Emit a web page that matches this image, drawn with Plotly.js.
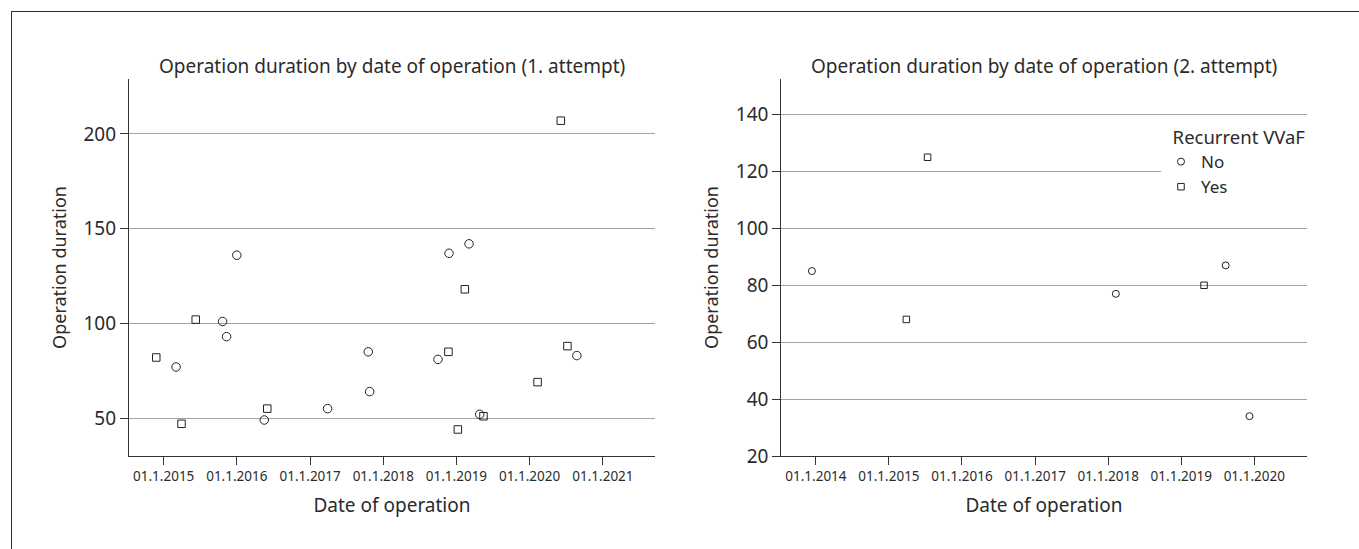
<!DOCTYPE html>
<html>
<head>
<meta charset="utf-8">
<script src="https://cdn.plot.ly/plotly-3.0.1.min.js"></script>
<style>
  html, body { margin: 0; padding: 0; background: #fff; }
  #wrap { position: relative; width: 1359px; height: 549px; overflow: hidden; }
  #chart { width: 1359px; height: 549px; }
  #frame { position: absolute; left: 10.5px; top: 10.5px; width: 1400px; height: 600px;
           border-left: 1.5px solid #2a2a2a; border-top: 1.5px solid #2a2a2a; pointer-events: none; }
</style>
</head>
<body>
<div id="wrap">
  <div id="chart"></div>
  <div id="frame"></div>
</div>
<script>
// ---- Data ----
// 1. attempt
const first_no_dates  = ['2015-03-04','2015-10-22','2015-11-11','2016-01-01','2016-05-17','2017-03-29','2017-10-18','2017-10-25','2018-10-01','2018-11-25','2019-03-05','2019-04-27','2020-08-24'];
const first_no_values = [77, 101, 93, 136, 49, 55, 85, 64, 81, 137, 142, 52, 83];
const first_yes_dates  = ['2014-11-25','2015-03-31','2015-06-10','2016-06-01','2018-11-22','2019-01-08','2019-02-12','2019-05-16','2020-02-10','2020-06-05','2020-07-08'];
const first_yes_values = [82, 47, 102, 55, 85, 44, 118, 51, 69, 207, 88];
// 2. attempt
const second_no_dates  = ['2013-12-12','2018-02-08','2019-08-11','2019-12-08'];
const second_no_values = [85, 77, 87, 34];
const second_yes_dates  = ['2015-03-29','2015-07-13','2019-04-25'];
const second_yes_values = [68, 125, 80];

const group_names = ['No', 'Yes'];
const legend_title = 'Recurrent VVaF';
const title_first = 'Operation duration by date of operation (1. attempt)';
const title_second = 'Operation duration by date of operation (2. attempt)';
const x_title = 'Date of operation';
const y_title = 'Operation duration';
const first_yticks = [50, 100, 150, 200];
const second_yticks = [20, 40, 60, 80, 100, 120, 140];

// ---- Styling ----
const FONT = '"Noto Sans", "Open Sans", sans-serif';
const TXT = '#2b2b2b';
const MK = '#222222';

function mk(symbol, size) {
  return { symbol: symbol, size: size, color: MK, line: { color: MK, width: 1 } };
}

const traces = [
  { type: 'scatter', mode: 'markers', x: first_no_dates, y: first_no_values, xaxis: 'x', yaxis: 'y',
    name: group_names[0], legendgroup: 'no', showlegend: false, marker: mk('circle-open', 8.5), hoverinfo: 'x+y' },
  { type: 'scatter', mode: 'markers', x: first_yes_dates, y: first_yes_values, xaxis: 'x', yaxis: 'y',
    name: group_names[1], legendgroup: 'yes', showlegend: false, marker: mk('square-open', 7.5), hoverinfo: 'x+y' },
  { type: 'scatter', mode: 'markers', x: second_no_dates, y: second_no_values, xaxis: 'x2', yaxis: 'y2',
    name: group_names[0], legendgroup: 'no', showlegend: true, marker: mk('circle-open', 7), hoverinfo: 'x+y' },
  { type: 'scatter', mode: 'markers', x: second_yes_dates, y: second_yes_values, xaxis: 'x2', yaxis: 'y2',
    name: group_names[1], legendgroup: 'yes', showlegend: true, marker: mk('square-open', 6.5), hoverinfo: 'x+y' }
];

const W = 1359, H = 549;
const M = { l: 20, r: 20, t: 20, b: 20 };
const PW = W - M.l - M.r, PH = H - M.t - M.b;
function dx(px) { return (px - M.l) / PW; }
function dy(py) { return (H - M.b - py) / PH; }

function xaxis(domain, range, tick0) {
  return {
    domain: domain, type: 'date', range: range,
    tick0: tick0, dtick: 'M12', tickformat: '%d.%-m.%Y',
    ticks: 'outside', ticklen: 8, tickwidth: 1, tickcolor: '#333',
    showline: true, linecolor: '#333', linewidth: 1.2,
    showgrid: false, zeroline: false,
    tickfont: { family: FONT, size: 13.5, color: TXT },
    title: { text: x_title, font: { family: FONT, size: 19, color: TXT }, standoff: 14 },
    fixedrange: true
  };
}
function yaxis(domain, range, ticks, anchor) {
  return {
    domain: domain, range: range, anchor: anchor,
    tickmode: 'array', tickvals: ticks, ticktext: ticks.map(String),
    ticks: 'outside', ticklen: 8, tickwidth: 1, tickcolor: '#333',
    showline: true, linecolor: '#333', linewidth: 1.2,
    showgrid: true, gridcolor: '#a3a3a3', gridwidth: 1, zeroline: false,
    tickfont: { family: FONT, size: 19, color: TXT },
    title: { text: y_title, font: { family: FONT, size: 18, color: TXT }, standoff: 12 },
    fixedrange: true
  };
}

const ydom = [dy(456), dy(79)];
const layout = {
  width: W, height: H, margin: M,
  paper_bgcolor: '#fff', plot_bgcolor: '#fff',
  font: { family: FONT, color: TXT },
  showlegend: true,
  xaxis: Object.assign(xaxis([dx(129), dx(655)], ['2014-07-12', '2021-09-18'], '2015-01-01'), { anchor: 'y' }),
  yaxis: yaxis(ydom, [30, 229], first_yticks, 'x'),
  xaxis2: Object.assign(xaxis([dx(781.3), dx(1306.7)], ['2013-07-12', '2020-09-19'], '2014-01-01'), { anchor: 'y2' }),
  yaxis2: yaxis(ydom, [20, 152.5], second_yticks, 'x2'),
  legend: {
    x: dx(1161), xanchor: 'left', y: dy(120), yanchor: 'top',
    bgcolor: '#ffffff', borderwidth: 0,
    font: { family: FONT, size: 17, color: TXT },
    title: { text: '\u00a0\u00a0' + legend_title, font: { family: FONT, size: 18.5, color: TXT } },
    tracegroupgap: 0, itemwidth: 30, itemclick: false, itemdoubleclick: false
  },
  annotations: [
    { text: title_first, xref: 'paper', yref: 'paper', x: (dx(129) + dx(655)) / 2, y: dy(65.5),
      xanchor: 'center', yanchor: 'middle', showarrow: false, font: { family: FONT, size: 19, color: TXT } },
    { text: title_second, xref: 'paper', yref: 'paper', x: (dx(781.3) + dx(1306.7)) / 2, y: dy(65.5),
      xanchor: 'center', yanchor: 'middle', showarrow: false, font: { family: FONT, size: 19, color: TXT } }
  ]
};

Plotly.newPlot('chart', traces, layout, { displayModeBar: false, staticPlot: false, responsive: false });
</script>
</body>
</html>
